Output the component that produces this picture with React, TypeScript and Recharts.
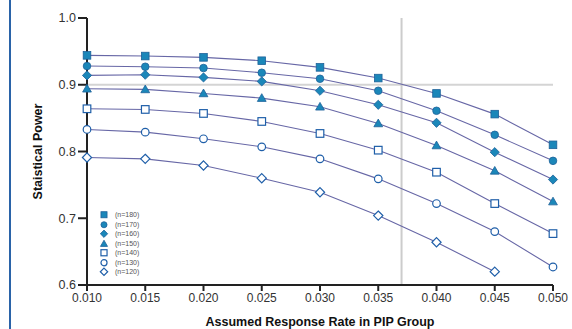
import React from "react";
import { LineChart, Line, XAxis, YAxis, ReferenceLine } from "recharts";

const xValues = [0.01, 0.015, 0.02, 0.025, 0.03, 0.035, 0.04, 0.045, 0.05];
const n180 = [0.944, 0.943, 0.941, 0.936, 0.926, 0.91, 0.887, 0.856, 0.81];
const n170 = [0.928, 0.927, 0.925, 0.918, 0.909, 0.891, 0.861, 0.825, 0.786];
const n160 = [0.914, 0.915, 0.911, 0.905, 0.891, 0.87, 0.843, 0.799, 0.758];
const n150 = [0.894, 0.893, 0.887, 0.88, 0.867, 0.842, 0.809, 0.771, 0.725];
const n140 = [0.864, 0.863, 0.857, 0.845, 0.827, 0.802, 0.769, 0.722, 0.677];
const n130 = [0.833, 0.829, 0.819, 0.807, 0.789, 0.759, 0.722, 0.68, 0.627];
const n120 = [0.791, 0.789, 0.779, 0.76, 0.739, 0.704, 0.664, 0.62, null];

const xTicks = [0.01, 0.015, 0.02, 0.025, 0.03, 0.035, 0.04, 0.045, 0.05];
const yTicks = [0.6, 0.7, 0.8, 0.9, 1.0];
const refX = 0.037;
const refY = 0.9;

const seriesDefs = [
  { key: "n180", label: "(n=180)", values: n180, shape: "square", filled: true },
  { key: "n170", label: "(n=170)", values: n170, shape: "circle", filled: true },
  { key: "n160", label: "(n=160)", values: n160, shape: "diamond", filled: true },
  { key: "n150", label: "(n=150)", values: n150, shape: "triangle", filled: true },
  { key: "n140", label: "(n=140)", values: n140, shape: "square", filled: false },
  { key: "n130", label: "(n=130)", values: n130, shape: "circle", filled: false },
  { key: "n120", label: "(n=120)", values: n120, shape: "diamond", filled: false },
];

const data = xValues.map((x, i) => {
  const row: any = { x };
  seriesDefs.forEach((s) => {
    row[s.key] = s.values[i];
  });
  return row;
});

const FILL = "#1b87b9";
const FILL_STROKE = "#1d6199";
const OPEN_STROKE = "#1f5fa9";
const LINE = "#6767a6";
const FONT = "'Liberation Sans', Arial, sans-serif";

function Marker({ shape, filled, cx, cy, scale = 1 }: any) {
  const fill = filled ? FILL : "#fff";
  const stroke = filled ? FILL_STROKE : OPEN_STROKE;
  const sw = filled ? 0.8 : 1.2;
  if (shape === "square") {
    const h = 3.8 * scale;
    return <rect x={cx - h} y={cy - h} width={2 * h} height={2 * h} fill={fill} stroke={stroke} strokeWidth={sw} />;
  }
  if (shape === "circle") {
    return <circle cx={cx} cy={cy} r={3.8 * scale} fill={fill} stroke={stroke} strokeWidth={sw} />;
  }
  if (shape === "diamond") {
    const h = 4.6 * scale;
    return (
      <polygon
        points={`${cx},${cy - h} ${cx + h},${cy} ${cx},${cy + h} ${cx - h},${cy}`}
        fill={fill}
        stroke={stroke}
        strokeWidth={sw}
      />
    );
  }
  const h = 4.4 * scale;
  return (
    <polygon
      points={`${cx},${cy - h} ${cx + h},${cy + h * 0.75} ${cx - h},${cy + h * 0.75}`}
      fill={fill}
      stroke={stroke}
      strokeWidth={sw}
    />
  );
}

function makeDot(shape: string, filled: boolean) {
  return (props: any) => {
    const { cx, cy, index, value } = props;
    if (cx == null || cy == null || value == null) return <g key={index} />;
    return (
      <g key={index}>
        <Marker shape={shape} filled={filled} cx={cx} cy={cy} />
      </g>
    );
  };
}

function LegendBox() {
  return (
    <div
      style={{
        position: "absolute",
        left: 99,
        top: 210,
        width: 70,
        fontFamily: FONT,
        fontSize: 7,
        color: "#555",
      }}
    >
      {seriesDefs.map((s) => (
        <div key={s.key} style={{ display: "flex", alignItems: "center", height: 9.5, lineHeight: "9.5px" }}>
          <svg width={10} height={9.5} style={{ marginRight: 6, display: "block", flex: "none" }}>
            <Marker shape={s.shape} filled={s.filled} cx={5} cy={4.75} scale={0.8} />
          </svg>
          <span style={{ whiteSpace: "nowrap" }}>{s.label}</span>
        </div>
      ))}
    </div>
  );
}

function YTitle(props: any) {
  const vb = props.viewBox || {};
  const x = 38;
  const y = (vb.y || 0) + (vb.height || 0) / 2;
  return (
    <text
      x={x}
      y={y}
      transform={`rotate(-90 ${x} ${y})`}
      textAnchor="middle"
      dominantBaseline="central"
      fontFamily={FONT}
      fontSize={12.5}
      fontWeight="bold"
      fill="#111"
    >
      Staistical Power
    </text>
  );
}

export default function App() {
  return (
    <div style={{ position: "absolute", left: 0, top: 0, width: 572, height: 329, background: "#fff" }}>
      <div style={{ position: "absolute", left: 9, top: 0, width: 2, height: 329, background: "#2a63a8" }} />
      <LineChart width={572} height={329} data={data} margin={{ top: 18, right: 19, left: 0, bottom: 0 }}>
        <ReferenceLine y={refY} stroke="#d4d4d4" strokeWidth={2} />
        <ReferenceLine x={refX} stroke="#cccccc" strokeWidth={2} />
        <XAxis
          dataKey="x"
          type="number"
          domain={[0.01, 0.05]}
          ticks={xTicks}
          tickFormatter={(v: number) => v.toFixed(3)}
          height={44}
          axisLine={{ stroke: "#222", strokeWidth: 2 }}
          tickLine={{ stroke: "#222", strokeWidth: 2 }}
          tickSize={6}
          tick={{ fill: "#333", fontSize: 12, fontFamily: FONT }}
          label={{
            value: "Assumed Response Rate in PIP Group",
            position: "insideBottom",
            offset: 3,
            fill: "#111",
            fontSize: 12.5,
            fontWeight: "bold",
            fontFamily: FONT,
          }}
        />
        <YAxis
          type="number"
          domain={[0.6, 1.0]}
          ticks={yTicks}
          tickFormatter={(v: number) => v.toFixed(1)}
          width={87}
          axisLine={{ stroke: "#222", strokeWidth: 2 }}
          tickLine={{ stroke: "#222", strokeWidth: 2 }}
          tickSize={9}
          tick={{ fill: "#333", fontSize: 12.5, fontFamily: FONT }}
          label={<YTitle />}
        />
        {seriesDefs.map((s) => (
          <Line
            key={s.key}
            dataKey={s.key}
            name={s.label}
            stroke={LINE}
            strokeWidth={1.1}
            dot={makeDot(s.shape, s.filled)}
            activeDot={false}
            isAnimationActive={false}
            connectNulls={false}
          />
        ))}
      </LineChart>
      <LegendBox />
    </div>
  );
}
